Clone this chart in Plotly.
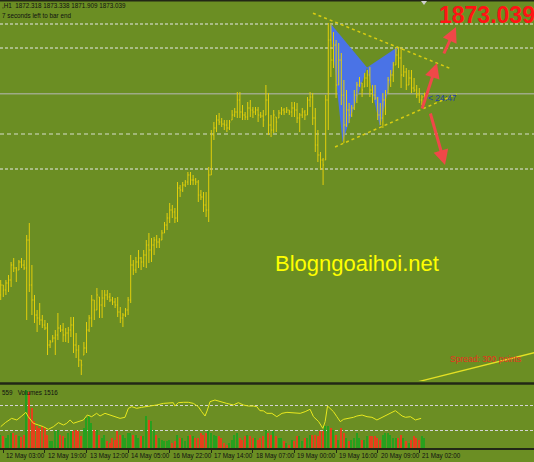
import plotly.graph_objects as go

# ---------------- data ----------------
bar_open = [1822.75,1825.25,1824.0,1825.75,1826.5,1830.25,1829.5,1829.0,1831.0,1830.25,
 1829.5,1836.5,1825.25,1821.5,1817.75,1817.0,1816.5,1815.25,1814.5,1810.25,
 1811.0,1812.0,1812.75,1814.5,1814.0,1812.75,1813.25,1814.0,1815.25,1810.25,
 1809.0,1806.5,1807.75,1809.5,1814.0,1817.0,1821.5,1819.0,1822.25,1820.25,
 1822.0,1822.75,1822.25,1821.5,1821.0,1820.25,1818.5,1817.0,1817.75,1819.0,
 1821.5,1830.25,1829.0,1831.0,1832.0,1831.0,1832.75,1835.25,1834.0,1835.25,
 1836.5,1836.0,1836.5,1838.25,1840.25,1842.0,1844.0,1843.5,1842.0,1849.5,
 1849.0,1850.25,1851.0,1852.75,1851.5,1851.5,1851.0,1847.75,1847.25,1845.25,
 1844.0,1852.75,1862.75,1864.5,1866.5,1866.0,1865.5,1865.25,1864.5,1866.5,
 1867.75,1868.5,1871.5,1868.5,1867.75,1867.25,1869.5,1869.0,1868.5,1869.0,
 1867.75,1867.5,1867.75,1871.5,1865.25,1864.0,1867.25,1867.0,1868.25,1869.0,
 1868.5,1869.0,1868.5,1869.5,1869.0,1867.0,1867.75,1868.5,1867.75,1871.5,
 1872.25,1867.0,1860.25,1857.75,1856.5,1856.5,1871.5,1886.5,1881.5,1885.25,
 1875.25,1881.5,1872.75,1865.25,1869.0,1867.75,1869.5,1872.75,1875.25,1875.75,
 1874.75,1877.0,1877.75,1874.0,1872.75,1872.0,1867.75,1867.0,1871.5,1873.25,
 1876.5,1877.75,1880.25,1882.75,1882.0,1877.75,1878.5,1875.25,1877.0,1874.5,
 1874.0,1872.75,1871.5,1872.318]
bar_high = [1826.5,1825.25,1826.5,1827.75,1831.0,1832.0,1829.75,1831.5,1832.0,1831.5,
 1837.75,1840.75,1830.25,1822.75,1819.0,1820.75,1817.75,1816.5,1815.75,1811.5,
 1812.75,1814.0,1818.25,1815.25,1815.75,1814.5,1814.75,1817.25,1817.25,1813.25,
 1810.25,1806.5,1811.0,1816.0,1817.75,1822.75,1821.5,1824.5,1822.25,1824.0,
 1824.0,1824.0,1823.25,1822.25,1822.0,1822.25,1819.75,1818.25,1819.5,1822.25,
 1832.75,1831.5,1832.25,1834.0,1832.25,1834.0,1836.5,1838.25,1837.0,1837.25,
 1837.75,1837.0,1839.0,1841.0,1843.25,1845.75,1845.25,1844.5,1851.0,1850.25,
 1851.0,1851.5,1853.5,1853.5,1852.75,1852.0,1851.5,1849.0,1848.5,1848.5,
 1854.75,1864.0,1866.0,1867.75,1868.25,1867.0,1866.5,1866.5,1866.5,1869.0,
 1869.5,1873.5,1873.5,1870.25,1868.5,1871.0,1871.5,1869.75,1869.75,1869.75,
 1868.5,1869.0,1875.25,1873.25,1867.75,1869.0,1867.25,1869.0,1869.75,1869.5,
 1869.75,1869.0,1871.0,1871.0,1870.75,1868.25,1869.5,1869.0,1872.25,1873.5,
 1873.25,1869.5,1864.0,1858.5,1857.0,1872.75,1890.75,1890.75,1888.5,1886.5,
 1885.75,1883.25,1876.5,1874.0,1870.75,1870.25,1874.0,1876.0,1877.25,1875.75,
 1878.25,1879.0,1879.75,1875.25,1875.25,1872.25,1870.75,1873.25,1874.0,1877.25,
 1879.0,1881.0,1884.75,1884.75,1884.75,1880.25,1879.5,1879.0,1879.0,1877.0,
 1875.25,1874.5,1872.75,1873.338]
bar_low = [1821.5,1822.25,1822.75,1823.5,1824.75,1828.5,1826.0,1829.0,1829.5,1829.0,
 1816.5,1823.5,1817.75,1815.75,1813.5,1815.25,1814.5,1814.0,1807.75,1809.5,
 1811.0,1807.75,1811.5,1813.5,1811.0,1811.0,1810.75,1812.25,1808.25,1807.0,
 1804.75,1802.75,1807.75,1808.25,1813.5,1814.75,1816.5,1819.0,1817.0,1817.0,
 1819.75,1821.5,1821.0,1820.25,1819.5,1817.25,1815.75,1814.75,1817.25,1817.75,
 1820.75,1827.75,1828.25,1829.5,1829.0,1829.75,1829.5,1830.75,1831.0,1832.75,
 1834.5,1834.5,1836.5,1838.25,1839.0,1840.75,1842.0,1840.75,1841.0,1847.25,
 1848.5,1849.75,1850.25,1850.25,1850.25,1850.25,1846.0,1846.5,1843.5,1842.25,
 1841.0,1852.75,1861.5,1863.5,1865.25,1864.75,1864.0,1863.5,1864.0,1866.5,
 1867.25,1867.0,1867.0,1866.5,1866.5,1866.5,1867.25,1867.0,1867.75,1866.0,
 1867.0,1864.75,1867.75,1862.75,1862.25,1863.25,1863.5,1867.0,1867.75,1867.75,
 1868.25,1867.75,1867.25,1867.25,1865.75,1863.5,1867.0,1866.5,1867.75,1869.75,
 1865.25,1858.5,1856.0,1854.0,1850.25,1856.5,1864.0,1877.25,1879.5,1872.0,
 1875.25,1870.25,1860.75,1864.75,1865.75,1867.25,1869.0,1870.75,1874.75,1872.25,
 1874.75,1874.75,1872.25,1870.75,1871.5,1866.5,1865.25,1864.5,1867.75,1873.25,
 1874.75,1876.0,1880.25,1879.5,1874.5,1877.25,1874.0,1875.25,1873.25,1873.5,
 1872.0,1870.75,1870.25,1871.909]
bar_close = [1825.25,1824.0,1825.75,1826.5,1830.25,1829.5,1829.0,1831.0,1830.25,1829.5,
 1836.5,1825.25,1821.5,1817.75,1817.0,1816.5,1815.25,1814.5,1810.25,1811.0,
 1812.0,1812.75,1814.5,1814.0,1812.75,1813.25,1814.0,1815.25,1810.25,1809.0,
 1806.5,1805.25,1809.5,1814.0,1817.0,1821.5,1819.0,1822.75,1820.25,1822.0,
 1822.75,1822.25,1821.5,1821.0,1820.25,1818.5,1817.0,1817.75,1819.0,1821.5,
 1830.25,1829.0,1831.0,1832.0,1831.0,1832.75,1835.25,1834.0,1835.25,1836.5,
 1836.0,1836.5,1838.25,1840.25,1842.0,1844.0,1843.5,1842.0,1849.5,1849.0,
 1850.25,1851.0,1852.75,1851.5,1851.5,1851.0,1847.75,1847.25,1845.25,1844.0,
 1852.75,1862.75,1864.5,1866.5,1866.0,1865.5,1865.25,1864.5,1866.0,1867.75,
 1868.5,1871.5,1868.5,1867.75,1867.25,1869.5,1869.0,1868.5,1869.0,1867.75,
 1867.5,1866.5,1871.5,1865.25,1864.0,1867.75,1866.0,1868.25,1869.0,1868.5,
 1869.0,1868.5,1869.5,1869.0,1867.0,1867.75,1868.5,1867.75,1871.5,1872.25,
 1867.0,1860.25,1857.75,1856.5,1855.25,1871.5,1886.5,1881.5,1885.25,1875.25,
 1881.5,1872.75,1865.25,1869.0,1867.75,1869.5,1872.75,1875.25,1875.75,1874.0,
 1877.0,1877.75,1874.0,1872.75,1872.0,1867.75,1867.0,1871.5,1872.75,1876.5,
 1877.75,1880.25,1882.75,1882.0,1877.75,1878.5,1875.25,1877.0,1874.5,1874.0,
 1872.75,1871.5,1872.25,1873.039]

volumes = [1950,1800,1500,1950,2250,2250,1950,1800,1650,1950,
 8700,8400,6000,4050,3300,3000,3300,3000,1950,1050,
 1050,2550,2700,1950,1800,1500,2250,2550,2550,2700,
 2550,1800,3000,4500,4800,3750,2700,2700,1950,1500,
 1950,1050,750,1500,1200,2550,1950,1950,1500,2250,
 2250,1950,1950,1500,1800,1800,4800,4200,4050,2700,
 1950,1500,1200,1050,1050,1200,750,1050,1950,1500,
 1500,1050,1800,1950,1800,1500,1500,2250,1950,2250,
 2550,2250,1950,1800,1800,1500,750,450,750,1200,
 1950,2250,1500,1200,1800,1950,1800,1500,1500,1200,
 1500,1800,2700,2250,1950,2550,1800,1500,1500,1050,
 750,450,1200,1050,1800,1800,1050,1500,1500,1950,
 1950,1950,1800,2550,2550,3300,3300,3000,2700,1950,
 1200,3000,2250,1500,1050,1200,1500,2250,1500,1200,
 1200,1800,1800,1800,1800,1500,1200,1950,2250,2250,
 1950,1500,1500,1500,1950,1500,1050,750,1200,1800,
 1500,1200,1800,1516]

ind_x = [0,1.8,4.2,6.2,8.1,9.7,10.6,12.6,14.5,16.4,18.3,20.3,22.2,24.1,25.4,26.7,27.9,29.9,31.8,33.3,
 35.0,36.9,38.2,40.1,42.1,44.0,45.9,47.8,49.1,50.4,52.3,54.2,56.1,58.1,60.0,62.6,64.5,66.4,67.0,68.3,
 70.3,72.2,74.1,76.0,77.3,78.6,79.5,80.5,82.4,84.4,86.9,89.5,91.4,93.3,95.3,97.2,98.5,99.7,101.0,102.4,
 104.3,106.2,108.2,110.1,112.6,115.2,117.1,119.0,120.3,122.3,123.9,124.8,125.7,126.8,128.0,129.3,130.6,131.9,133.8,135.7,
 137.0,139.0,140.9,142.8,144.7,146.7,148.6,150.5,151.8,153.1,154.4,155.7,157.6,159.5,160.8,161.7]
ind_v = [34.4,40.9,47.8,45.2,51.6,57.5,50.5,39.8,37.1,34.4,30.1,34.4,40.9,37.1,39.8,45.2,39.8,42.5,45.2,53.2,
 50.5,55.9,51.6,55.9,53.2,49.5,47.8,49.5,64.0,66.7,64.0,65.6,66.7,67.7,69.4,72.0,72.0,73.1,67.7,73.1,
 73.7,73.7,72.0,66.7,58.6,51.6,61.3,74.7,77.4,74.7,72.0,69.4,73.1,69.4,67.7,67.7,66.7,60.2,60.0,55.9,
 55.9,50.5,55.9,57.5,57.0,55.9,58.6,62.4,50.5,42.5,31.7,42.5,67.7,64.0,58.6,50.5,42.5,46.3,47.8,49.5,
 51.6,53.2,50.5,49.5,45.2,49.5,53.2,58.6,60.2,55.9,51.6,49.5,50.5,45.2,46.3,47.8]

tick_idx = [1, 17, 33, 49, 65, 81, 97, 113, 129, 145, 161]
tick_labels = ["12 May 03:00", "12 May 19:00", "13 May 12:00", "14 May 05:00",
               "16 May 22:00", "17 May 14:00", "18 May 07:00", "19 May 00:00",
               "19 May 16:00", "20 May 09:00", "21 May 02:00"]

white_levels = [1890.5, 1884.5, 1854.25]
pale_levels = [1863.0]
bid_price = 1873.039
vol_levels = [2700, 6450]

pattern_xab_x = [126.7, 131.5, 140.9]
pattern_xab_y = [1890.75, 1861.0, 1879.6]
pattern_bcd_x = [140.9, 152.7, 145.9]
pattern_bcd_y = [1879.6, 1884.75, 1864.75]

upper_line_x = [120.1, 173.6]
upper_line_y = [1893.2, 1879.2]
lower_line_x = [128.6, 175.4]
lower_line_y = [1859.75, 1873.0]
channel_x = [158.6, 210.0]
channel_y = [1800.75, 1809.1]

arrow_tail_x = [161.9, 170.2, 165.1]
arrow_tail_y = [1869.0, 1882.75, 1868.5]
arrow_head_x = [167.8, 175.1, 170.9]
arrow_head_y = [1880.75, 1889.75, 1855.25]

# ---------------- figure ----------------
W, H = 534, 462
BOTTOM = 14
PH = H - BOTTOM  # plot area height in px

def py(pix):
    return (PH - pix) / PH

def px(pix):
    return pix / W

BG = "#6b8e23"
BAR = "#e2ce0c"
DARK = "#222716"

idx = list(range(len(bar_open)))
vol_colors = ["#27a01e" if c >= o else "#e4411b" for o, c in zip(bar_open, bar_close)]

fig = go.Figure()
fig.add_trace(go.Ohlc(
    x=idx, open=bar_open, high=bar_high, low=bar_low, close=bar_close,
    increasing=dict(line=dict(color=BAR, width=1)),
    decreasing=dict(line=dict(color=BAR, width=1)),
    tickwidth=0.35, xaxis="x", yaxis="y", hoverinfo="skip", showlegend=False))
fig.add_trace(go.Bar(
    x=idx, y=volumes, marker=dict(color=vol_colors, line=dict(width=0)),
    width=0.6, xaxis="x", yaxis="y2", hoverinfo="skip", showlegend=False))
fig.add_trace(go.Scatter(
    x=ind_x, y=ind_v, mode="lines", line=dict(color="#e8e81e", width=1),
    xaxis="x", yaxis="y3", hoverinfo="skip", showlegend=False))

shapes = []
# separators
shapes.append(dict(type="line", xref="paper", yref="paper", x0=0, x1=1, y0=1, y1=1,
                   line=dict(color=DARK, width=3)))
shapes.append(dict(type="line", xref="paper", yref="paper", x0=0, x1=1, y0=py(383.5), y1=py(383.5),
                   line=dict(color=DARK, width=2.5)))
# horizontal levels
for lv in white_levels:
    shapes.append(dict(type="line", xref="paper", yref="y", x0=0, x1=1, y0=lv, y1=lv,
                       line=dict(color="#e8e8e8", width=1, dash="3px,2px"), layer="below"))
for lv in pale_levels:
    shapes.append(dict(type="line", xref="paper", yref="y", x0=0, x1=1, y0=lv, y1=lv,
                       line=dict(color="#b4c494", width=1.3, dash="4px,3px"), layer="below"))
shapes.append(dict(type="line", xref="paper", yref="y", x0=0, x1=1, y0=bid_price, y1=bid_price,
                   line=dict(color="#b8b8b8", width=1), layer="below"))
# butterfly pattern
for xs, ys in [(pattern_xab_x, pattern_xab_y), (pattern_bcd_x, pattern_bcd_y)]:
    path = "M {} {} L {} {} L {} {} Z".format(xs[0], ys[0], xs[1], ys[1], xs[2], ys[2])
    shapes.append(dict(type="path", xref="x", yref="y", path=path,
                       fillcolor="#4a73e6", line=dict(width=0), layer="below"))
# trend lines
for xs, ys in [(upper_line_x, upper_line_y), (lower_line_x, lower_line_y)]:
    shapes.append(dict(type="line", xref="x", yref="y", x0=xs[0], x1=xs[1], y0=ys[0], y1=ys[1],
                       line=dict(color="#d8cc10", width=1.5, dash="dot")))
shapes.append(dict(type="line", xref="x", yref="y", x0=channel_x[0], x1=channel_x[1],
                   y0=channel_y[0], y1=channel_y[1], line=dict(color="#e4e024", width=1.3)))
# chart shift marker
shapes.append(dict(type="path", xref="paper", yref="paper",
                   path="M {} {} L {} {} L {} {} Z".format(px(421), py(1), px(427), py(1), px(424), py(5)),
                   fillcolor="#cfcfcf", line=dict(width=0)))

annotations = []
for tx, ty, hx, hy in zip(arrow_tail_x, arrow_tail_y, arrow_head_x, arrow_head_y):
    annotations.append(dict(x=hx, y=hy, xref="x", yref="y", ax=tx, ay=ty, axref="x", ayref="y",
                            showarrow=True, arrowhead=2, arrowsize=1, arrowwidth=3,
                            arrowcolor="#f04848", text="", standoff=0))

FONT = "Liberation Sans"
annotations.append(dict(text="<b>1873.039</b>", xref="paper", yref="paper", x=px(437), y=py(15),
                        xanchor="left", yanchor="middle", showarrow=False,
                        font=dict(family=FONT, size=23, color="#ff1414")))
annotations.append(dict(text="Blogngoaihoi.net", xref="paper", yref="paper", x=px(357), y=py(263),
                        xanchor="center", yanchor="middle", showarrow=False,
                        font=dict(family=FONT, size=22, color="#ffff00")))
annotations.append(dict(text="Spread: 300 points", xref="paper", yref="paper", x=px(448), y=py(359),
                        xanchor="left", yanchor="middle", showarrow=False,
                        font=dict(family=FONT, size=8.5, color="#e8321e")))
annotations.append(dict(text="&lt; 24:47", xref="paper", yref="paper", x=px(426), y=py(98),
                        xanchor="left", yanchor="middle", showarrow=False,
                        font=dict(family=FONT, size=8.5, color="#2442a8")))
annotations.append(dict(text=",H1  1872.318 1873.338 1871.909 1873.039", xref="paper", yref="paper",
                        x=0, y=py(5.5), xanchor="left", yanchor="middle", showarrow=False,
                        font=dict(family=FONT, size=6.3, color="#111111")))
annotations.append(dict(text="7 seconds left to bar end", xref="paper", yref="paper",
                        x=0, y=py(15), xanchor="left", yanchor="middle", showarrow=False,
                        font=dict(family=FONT, size=6.3, color="#111111")))
annotations.append(dict(text="559&nbsp;&nbsp; Volumes 1516", xref="paper", yref="paper",
                        x=0, y=py(392), xanchor="left", yanchor="middle", showarrow=False,
                        font=dict(family=FONT, size=6.3, color="#111111")))
for ti, tl in zip(tick_idx, tick_labels):
    annotations.append(dict(text=tl, xref="x", yref="paper", x=ti, y=py(455.5),
                            xanchor="left", yanchor="middle", xshift=1, showarrow=False,
                            font=dict(family=FONT, size=6.3, color="#111111")))

fig.update_layout(
    width=W, height=H,
    margin=dict(l=0, r=0, t=0, b=BOTTOM, pad=0),
    paper_bgcolor=BG, plot_bgcolor=BG,
    showlegend=False,
    bargap=0,
    xaxis=dict(domain=[0, 1], range=[-0.27, 205.12], anchor="y2",
               showgrid=False, zeroline=False, showline=True, linecolor=DARK, linewidth=2,
               ticks="outside", ticklen=3, tickwidth=1, tickcolor=DARK,
               tickvals=tick_idx, showticklabels=False,
               rangeslider=dict(visible=False), fixedrange=True),
    yaxis=dict(domain=[py(381), 1], range=[1801.25, 1896.5], anchor="x",
               showgrid=False, zeroline=False, showticklabels=False, fixedrange=True),
    yaxis2=dict(domain=[0, py(386)], range=[0, 9300], anchor="x",
                showgrid=True, gridcolor="#d4d4d4", griddash="3px,2px", gridwidth=1,
                tickvals=vol_levels, showticklabels=False, zeroline=False, fixedrange=True),
    yaxis3=dict(overlaying="y2", range=[0, 100], anchor="x", visible=False, fixedrange=True),
    shapes=shapes,
    annotations=annotations,
)

fig.write_html("out.html", config={"displayModeBar": False},
               post_script="document.body.style.margin='0';document.body.style.overflow='hidden';"
                           "document.body.style.background='" + BG + "';")
